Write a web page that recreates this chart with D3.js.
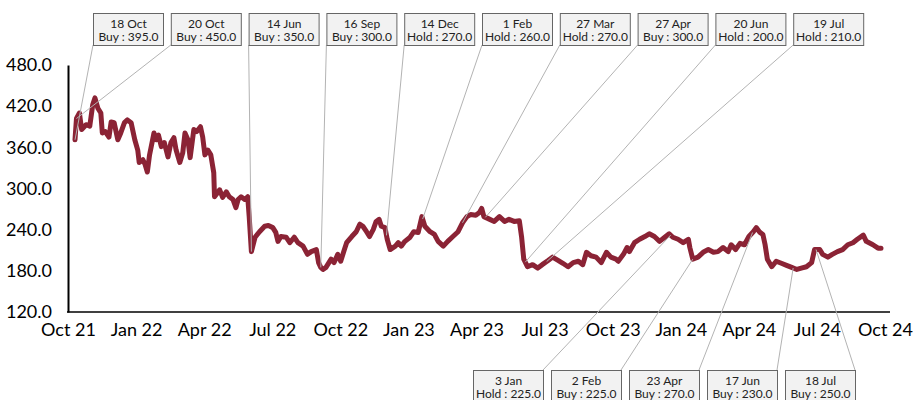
<!DOCTYPE html>
<html>
<head>
<meta charset="utf-8">
<script src="https://cdn.jsdelivr.net/npm/d3@7"></script>
<style>
  body { margin: 0; background: #fff; }
  svg { display: block; }
</style>
</head>
<body>
<svg id="chart" width="914" height="400"></svg>
<script>
// -- Data --
const dates = [
  "2021-10-18","2021-10-20","2021-10-24","2021-10-27","2021-11-02","2021-11-07","2021-11-11","2021-11-14",
  "2021-11-18","2021-11-22","2021-11-24","2021-11-28","2021-12-03","2021-12-06","2021-12-10","2021-12-15",
  "2021-12-19","2021-12-24","2021-12-28","2022-01-02","2022-01-07","2022-01-11","2022-01-13","2022-01-18",
  "2022-01-21","2022-01-24","2022-01-27","2022-02-02","2022-02-05","2022-02-08","2022-02-12","2022-02-16",
  "2022-02-21","2022-02-25","2022-03-01","2022-03-04","2022-03-09","2022-03-13","2022-03-16","2022-03-20",
  "2022-03-23","2022-03-28","2022-04-01","2022-04-06","2022-04-09","2022-04-12","2022-04-16","2022-04-20",
  "2022-04-24","2022-04-25","2022-05-02","2022-05-06","2022-05-11","2022-05-15","2022-05-20","2022-05-24",
  "2022-05-27","2022-05-31","2022-06-05","2022-06-09","2022-06-11","2022-06-14","2022-06-19","2022-06-25",
  "2022-07-02","2022-07-07","2022-07-13","2022-07-17","2022-07-20","2022-07-24","2022-07-31","2022-08-05",
  "2022-08-11","2022-08-16","2022-08-23","2022-08-29","2022-09-03","2022-09-10","2022-09-13","2022-09-16",
  "2022-09-19","2022-09-23","2022-09-30","2022-10-04","2022-10-09","2022-10-13","2022-10-18","2022-10-21",
  "2022-10-28","2022-11-03","2022-11-08","2022-11-12","2022-11-17","2022-11-21","2022-11-26","2022-11-30",
  "2022-12-04","2022-12-07","2022-12-12","2022-12-15","2022-12-19","2022-12-26","2022-12-30","2023-01-03",
  "2023-01-08","2023-01-15","2023-01-20","2023-01-26","2023-01-31","2023-02-04","2023-02-11","2023-02-17",
  "2023-02-22","2023-03-01","2023-03-07","2023-03-14","2023-03-21","2023-03-27","2023-04-02","2023-04-07",
  "2023-04-14","2023-04-19","2023-04-22","2023-04-25","2023-05-03","2023-05-09","2023-05-16","2023-05-23",
  "2023-05-29","2023-06-05","2023-06-12","2023-06-15","2023-06-18","2023-06-23","2023-06-30","2023-07-07",
  "2023-07-13","2023-07-21","2023-07-27","2023-08-04","2023-08-10","2023-08-17","2023-08-24","2023-08-31",
  "2023-09-06","2023-09-11","2023-09-17","2023-09-24","2023-10-01","2023-10-08","2023-10-14","2023-10-21",
  "2023-10-24","2023-10-31","2023-11-05","2023-11-08","2023-11-15","2023-11-22","2023-11-29","2023-12-05",
  "2023-12-12","2023-12-19","2023-12-26","2024-01-01","2024-01-06","2024-01-13","2024-01-20","2024-01-27",
  "2024-01-29","2024-02-02","2024-02-09","2024-02-16","2024-02-23","2024-03-01","2024-03-07","2024-03-14",
  "2024-03-21","2024-03-25","2024-03-31","2024-04-06","2024-04-12","2024-04-18","2024-04-24","2024-04-28",
  "2024-05-03","2024-05-07","2024-05-10","2024-05-13","2024-05-19","2024-05-25","2024-06-01","2024-06-08",
  "2024-06-15","2024-06-22","2024-06-28","2024-07-05","2024-07-12","2024-07-16","2024-07-23","2024-07-27",
  "2024-08-03","2024-08-09","2024-08-16","2024-08-23","2024-08-30","2024-09-06","2024-09-12","2024-09-20",
  "2024-09-24","2024-10-03","2024-10-10","2024-10-14"
];
const prices = [
  371, 402, 410, 386, 393, 391, 422, 432,
  417, 410, 381, 383, 375, 397, 396, 371,
  381, 396, 400, 396, 371, 356, 338, 342,
  335, 324, 349, 381, 371, 378, 361, 367,
  346, 367, 374, 356, 338, 352, 381, 371,
  345, 386, 383, 390, 375, 349, 356, 349,
  323, 288, 298, 287, 295, 288, 284, 272,
  284, 288, 284, 288, 259, 208, 229, 237,
  245, 246, 243, 236, 223, 230, 229, 221,
  229, 221, 216, 204, 208, 211, 192, 185,
  182, 185, 197, 192, 204, 194, 211, 221,
  230, 237, 248, 245, 237, 230, 240, 252,
  255, 245, 243, 226, 211, 216, 221, 216,
  223, 229, 237, 236, 259, 245, 237, 233,
  223, 216, 223, 230, 237, 250, 259, 262,
  261, 265, 271, 259, 255, 252, 259, 252,
  255, 252, 253, 230, 197, 186, 189, 184,
  189, 195, 200, 195, 191, 186, 192, 194,
  189, 207, 202, 200, 192, 207, 200, 197,
  194, 204, 214, 208, 221, 226, 230, 234,
  230, 223, 229, 234, 229, 226, 221, 226,
  214, 197, 200, 207, 211, 207, 208, 214,
  208, 218, 211, 220, 218, 230, 237, 243,
  236, 233, 218, 197, 186, 194, 191, 188,
  185, 182, 184, 186, 192, 211, 211, 204,
  200, 204, 208, 211, 218, 221, 226, 232,
  223, 218, 213, 213
];

const tickLabels = ["Oct 21","Jan 22","Apr 22","Jul 22","Oct 22","Jan 23","Apr 23",
                    "Jul 23","Oct 23","Jan 24","Apr 24","Jul 24","Oct 24"];
const yTicks = [120, 180, 240, 300, 360, 420, 480];

// Annotations above the chart
const topDates = ["2021-10-18","2021-10-20","2022-06-14","2022-09-16","2022-12-14",
                  "2023-02-01","2023-03-27","2023-04-27","2023-06-20","2023-07-19"];
const topTitles = ["18 Oct","20 Oct","14 Jun","16 Sep","14 Dec","1 Feb","27 Mar","27 Apr","20 Jun","19 Jul"];
const topNotes = ["Buy : 395.0","Buy : 450.0","Buy : 350.0","Buy : 300.0","Hold : 270.0",
                  "Hold : 260.0","Hold : 270.0","Buy : 300.0","Hold : 200.0","Hold : 210.0"];

// Annotations below the chart
const bottomDates = ["2024-01-03","2024-02-02","2024-04-23","2024-06-17","2024-07-18"];
const bottomTitles = ["3 Jan","2 Feb","23 Apr","17 Jun","18 Jul"];
const bottomNotes = ["Hold : 225.0","Buy : 225.0","Buy : 270.0","Buy : 230.0","Buy : 250.0"];


// -- Setup --
const svg = d3.select("#chart");
const FONT = "Lato, 'Open Sans', sans-serif";
const LINE_COLOR = "#8b2335";
const BOX_W = 70, BOX_H = 32;

const parse = d3.timeParse("%Y-%m-%d");
const data = dates.map((d, i) => ({ date: parse(d), value: prices[i] }));

const x = d3.scaleTime().domain(d3.extent(data, d => d.date)).range([75, 881]);
const y = d3.scaleLinear().domain([120, 480]).range([312, 65]);
// quarter labels sit evenly along the bottom axis
const xLabels = d3.scalePoint().domain(tickLabels).range([68, 885]);


// -- Helpers --
const bisectDate = d3.bisector(d => d.date).left;

function valueAt(date){
    const i = bisectDate(data, date);
    if (i <= 0) return data[0].value;
    if (i >= data.length) return data[data.length - 1].value;
    const a = data[i - 1], b = data[i];
    const t = (date - a.date) / (b.date - a.date);
    return a.value + t * (b.value - a.value);
}


// -- Axes --
function drawAxes(){
    const yAxis = svg.append("g")
        .attr("transform", "translate(68,0)")
        .call(d3.axisLeft(y).tickValues(yTicks).tickFormat(d3.format(".1f")).tickSize(0).tickPadding(16));
    yAxis.select(".domain").attr("stroke", "#000").attr("stroke-width", 2);
    yAxis.selectAll("text")
        .attr("font-family", FONT)
        .attr("font-size", 18)
        .attr("fill", "#000");

    svg.append("line")
        .attr("x1", 67).attr("x2", 890)
        .attr("y1", y(120)).attr("y2", y(120))
        .attr("stroke", "#000")
        .attr("stroke-width", 1.5);

    const xAxis = svg.append("g")
        .attr("transform", `translate(0,${y(120)})`)
        .call(d3.axisBottom(xLabels).tickSize(0).tickPadding(11));
    xAxis.select(".domain").remove();
    xAxis.selectAll("text")
        .attr("font-family", FONT)
        .attr("font-size", 18)
        .attr("fill", "#000");
}


// -- Price line --
function drawLine(){
    const line = d3.line()
        .x(d => x(d.date))
        .y(d => y(d.value));

    svg.append("path")
        .datum(data)
        .attr("d", line)
        .attr("fill", "none")
        .attr("stroke", LINE_COLOR)
        .attr("stroke-width", 5)
        .attr("stroke-linejoin", "round")
        .attr("stroke-linecap", "round");
}


// -- Callouts --
function drawNotes(noteDates, titles, notes, boxX, boxY, anchorRight){
    const notesData = noteDates.map((d, i) => {
        const date = parse(d);
        return {
            px: x(date),
            py: y(valueAt(date)),
            bx: boxX(i),
            title: titles[i],
            note: notes[i]
        };
    });

    // leader lines from box corner to the price on that day
    svg.selectAll(null)
        .data(notesData)
        .enter()
        .append("line")
        .attr("x1", d => anchorRight ? d.bx + BOX_W : d.bx)
        .attr("y1", anchorRight ? boxY : boxY + BOX_H)
        .attr("x2", d => d.px)
        .attr("y2", d => d.py)
        .attr("stroke", "#b3b3b3")
        .attr("stroke-width", 1);

    const groups = svg.selectAll(null)
        .data(notesData)
        .enter()
        .append("g")
        .attr("transform", d => `translate(${d.bx},${boxY})`);

    groups.append("rect")
        .attr("x", 0.5).attr("y", 0.5)
        .attr("width", BOX_W).attr("height", BOX_H)
        .attr("fill", "#f2f2f2")
        .attr("stroke", "#666")
        .attr("stroke-width", 1);

    groups.append("text")
        .attr("x", BOX_W / 2 + 0.5)
        .attr("y", 14.5)
        .attr("text-anchor", "middle")
        .attr("font-family", FONT)
        .attr("font-size", 12)
        .attr("fill", "#222")
        .text(d => d.title);

    groups.append("text")
        .attr("x", BOX_W / 2 + 0.5)
        .attr("y", 28)
        .attr("text-anchor", "middle")
        .attr("font-family", FONT)
        .attr("font-size", 12)
        .attr("fill", "#222")
        .text(d => d.note);
}


// -- Initial Load --
drawAxes();
drawLine();
drawNotes(topDates, topTitles, topNotes, i => 93 + i * 77.8, 13, false);
drawNotes(bottomDates, bottomTitles, bottomNotes, i => 473 + i * 78, 370, true);
</script>
</body>
</html>
